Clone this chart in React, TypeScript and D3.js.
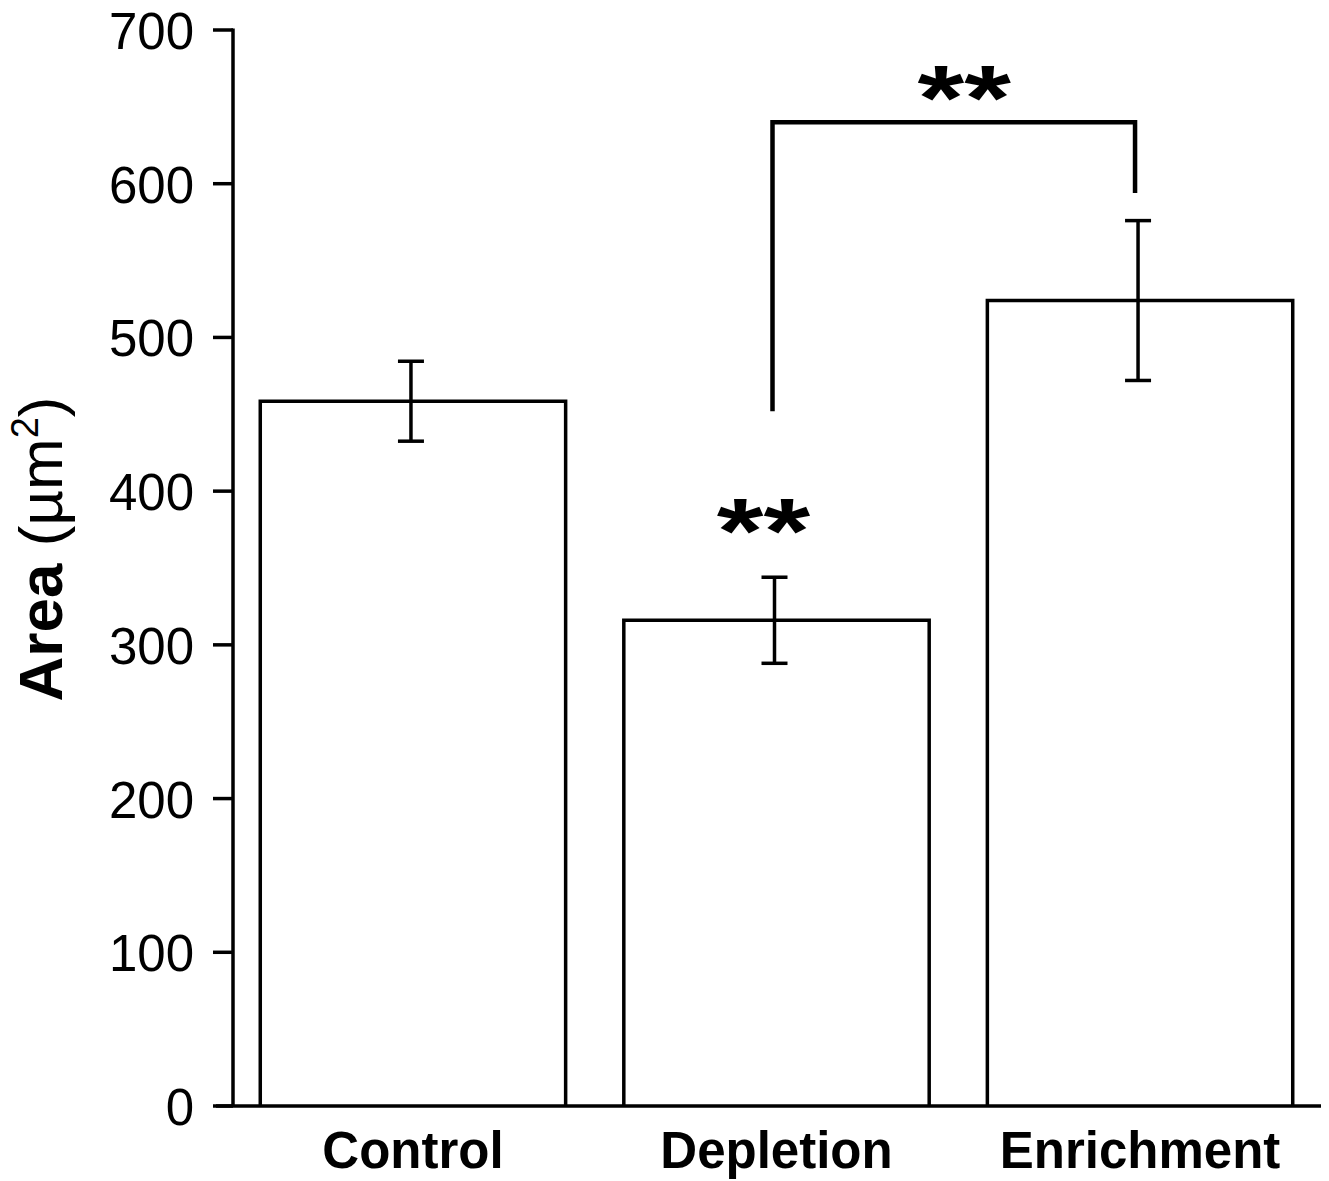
import React from "react";
import * as d3 from "d3";

const categories = ["Control", "Depletion", "Enrichment"];
const means = [458.5, 316, 524];
const errors = [26, 28, 52];
const yTicks = [0, 100, 200, 300, 400, 500, 600, 700];
// significance bracket between Depletion and Enrichment
const bracketTop = 640;
const bracketLeftEnd = 452;
const bracketRightEnd = 594;

const W = 1329;
const H = 1181;

const App = () => {
  const y = d3.scaleLinear().domain([0, 700]).range([1106, 30]);
  const x = d3
    .scaleBand()
    .domain(categories)
    .range([233, 1320])
    .paddingInner(0.16)
    .paddingOuter(0.075);
  const bw = x.bandwidth();
  const cx = (c) => (x(c) as number) + bw / 2;

  const sw = 3.5;
  const font = "'Liberation Sans', Arial, sans-serif";

  const bracketPath = d3.path();
  bracketPath.moveTo(cx("Depletion") - 4, y(bracketLeftEnd));
  bracketPath.lineTo(cx("Depletion") - 4, y(bracketTop));
  bracketPath.lineTo(cx("Enrichment") - 5, y(bracketTop));
  bracketPath.lineTo(cx("Enrichment") - 5, y(bracketRightEnd));

  const starX1 = cx("Depletion") - 13;
  const starX2 = (cx("Depletion") + cx("Enrichment")) / 2 + 6;

  return (
    <svg
      width={W}
      height={H}
      style={{ position: "absolute", left: 0, top: 0, background: "#fff" }}
      fontFamily={font}
    >
      {/* bars */}
      {categories.map((c, i) => {
        const x0 = x(c) as number;
        const p = d3.path();
        p.moveTo(x0, y(0));
        p.lineTo(x0, y(means[i]));
        p.lineTo(x0 + bw, y(means[i]));
        p.lineTo(x0 + bw, y(0));
        return <path key={c} d={p.toString()} fill="#fff" stroke="#000" strokeWidth={sw} />;
      })}

      {/* error bars */}
      {categories.map((c, i) => {
        const xc = cx(c) - 2;
        const hi = y(means[i] + errors[i]);
        const lo = y(means[i] - errors[i]);
        return (
          <g key={c} stroke="#000" strokeWidth={sw}>
            <line x1={xc} x2={xc} y1={hi} y2={lo} />
            <line x1={xc - 13} x2={xc + 13} y1={hi} y2={hi} />
            <line x1={xc - 13} x2={xc + 13} y1={lo} y2={lo} />
          </g>
        );
      })}

      {/* y axis */}
      <line x1={233} x2={233} y1={y(700) - 1.5} y2={y(0)} stroke="#000" strokeWidth={sw} />
      {yTicks.map((t) => (
        <g key={t}>
          <line x1={213} x2={233} y1={y(t)} y2={y(t)} stroke="#000" strokeWidth={sw} />
          <text x={194} y={y(t) + 19} textAnchor="end" fontSize={51}>
            {t}
          </text>
        </g>
      ))}

      {/* x axis */}
      <line x1={216} x2={1321} y1={y(0)} y2={y(0)} stroke="#000" strokeWidth={sw} />
      {categories.map((c) => (
        <text key={c} x={cx(c)} y={1168} textAnchor="middle" fontSize={51} fontWeight="bold">
          {c}
        </text>
      ))}

      {/* y label */}
      <text
        transform={`translate(62,549) rotate(-90)`}
        textAnchor="middle"
        fontSize={62}
      >
        <tspan fontWeight="bold">Area</tspan>
        <tspan> (µm</tspan>
        <tspan fontSize={38} dy={-24}>2</tspan>
        <tspan dy={24}>)</tspan>
      </text>

      {/* significance */}
      <path d={bracketPath.toString()} fill="none" stroke="#000" strokeWidth={4.5} />
      <text
        transform={`translate(${starX1},563) scale(1,0.77)`}
        textAnchor="middle"
        fontSize={120}
        fontWeight="bold"
      >
        **
      </text>
      <text
        transform={`translate(${starX2},130) scale(1,0.77)`}
        textAnchor="middle"
        fontSize={120}
        fontWeight="bold"
      >
        **
      </text>
    </svg>
  );
};

export default App;
